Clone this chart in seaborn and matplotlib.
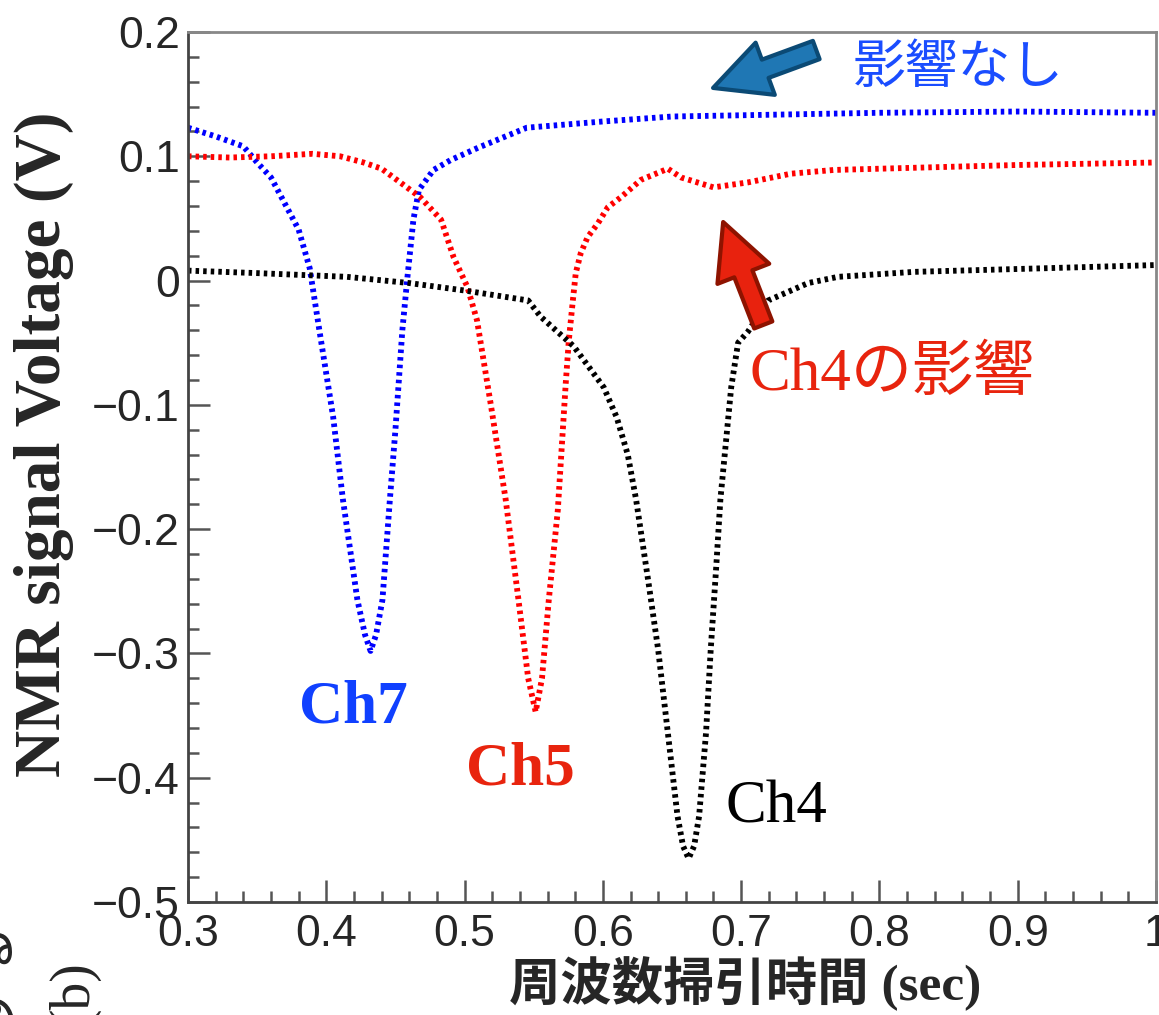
import numpy as np
import pandas as pd
import matplotlib
matplotlib.use("Agg")
import matplotlib.pyplot as plt
import seaborn as sns
from matplotlib.patches import FancyArrowPatch
from matplotlib.ticker import MultipleLocator, FuncFormatter

# -----------------------------
# values (time in sec, voltage in V)
# -----------------------------
ch7_t = [0.300, 0.320, 0.340, 0.350, 0.360, 0.370, 0.380, 0.388, 0.395, 0.400,
         0.405, 0.412, 0.4225, 0.428, 0.432, 0.436, 0.4406, 0.446, 0.450, 0.455,
         0.4587, 0.463, 0.467, 0.4775, 0.490, 0.510, 0.545, 0.600, 0.650, 0.700,
         0.800, 0.900, 1.000]
ch7_v = [0.123, 0.116, 0.108, 0.095, 0.083, 0.062, 0.041, 0.010, -0.040, -0.075,
         -0.110, -0.176, -0.257, -0.285, -0.298, -0.285, -0.257, -0.176, -0.120, -0.040,
         0.003, 0.049, 0.073, 0.089, 0.097, 0.107, 0.123, 0.128, 0.132, 0.133,
         0.135, 0.136, 0.135]

ch5_t = [0.300, 0.330, 0.360, 0.390, 0.410, 0.427, 0.440, 0.451, 0.468, 0.483,
         0.492, 0.502, 0.509, 0.519, 0.5297, 0.539, 0.546, 0.5514, 0.556, 0.5609,
         0.5674, 0.5732, 0.5754, 0.5783, 0.5804, 0.584, 0.589, 0.5964, 0.6036, 0.613,
         0.6275, 0.647, 0.6565, 0.680, 0.705, 0.736, 0.767, 0.800, 0.900, 1.000]
ch5_v = [0.100, 0.099, 0.100, 0.102, 0.100, 0.095, 0.090, 0.081, 0.067, 0.049,
         0.019, -0.005, -0.032, -0.100, -0.176, -0.257, -0.320, -0.347, -0.320, -0.257,
         -0.185, -0.082, -0.048, -0.016, 0.006, 0.022, 0.035, 0.046, 0.059, 0.067,
         0.081, 0.090, 0.083, 0.075, 0.079, 0.086, 0.089, 0.090, 0.093, 0.095]

ch4_t = [0.300, 0.350, 0.415, 0.460, 0.500, 0.546, 0.555, 0.579, 0.6007, 0.610,
         0.618, 0.624, 0.633, 0.640, 0.647, 0.654, 0.658, 0.662, 0.666, 0.6696,
         0.6746, 0.678, 0.682, 0.685, 0.689, 0.6928, 0.6978, 0.705, 0.7196, 0.7485,
         0.770, 0.825, 0.922, 1.000]
ch4_v = [0.008, 0.006, 0.003, -0.002, -0.008, -0.016, -0.029, -0.053, -0.086, -0.110,
         -0.140, -0.176, -0.243, -0.297, -0.364, -0.431, -0.455, -0.465, -0.455, -0.431,
         -0.364, -0.297, -0.230, -0.176, -0.130, -0.086, -0.050, -0.041, -0.016, -0.002,
         0.003, 0.007, 0.010, 0.0125]

series = [(ch7_t, ch7_v, "#0000ff"), (ch5_t, ch5_v, "#ff0000"), (ch4_t, ch4_v, "#000000")]

# -----------------------------
# style
# -----------------------------
sns.set_style("ticks")
plt.rcParams["font.family"] = ["Liberation Sans", "DejaVu Sans"]
serif_jp = ["Liberation Serif", "Noto Sans CJK JP"]

fig = plt.figure(figsize=(11.59, 10.15), dpi=100)
ax = fig.add_axes([188 / 1159, 113 / 1015, 968 / 1159, 870 / 1015])

for t, v, c in series:
    df = pd.DataFrame({"t": t, "v": v})
    sns.lineplot(data=df, x="t", y="v", color=c, sort=False, estimator=None,
                 lw=4.2, dashes=False, ax=ax, linestyle=(0, (0.6, 0.7)))

ax.set_xlim(0.3, 1.0)
ax.set_ylim(-0.5, 0.2)
ax.xaxis.set_major_locator(MultipleLocator(0.1))
ax.xaxis.set_minor_locator(MultipleLocator(0.02))
ax.yaxis.set_major_locator(MultipleLocator(0.1))
ax.yaxis.set_minor_locator(MultipleLocator(0.02))
ax.xaxis.set_major_formatter(FuncFormatter(
    lambda v, p: "1" if abs(v - 1) < 1e-9 else f"{v:.1f}".replace("-", "\u2212")))
ax.yaxis.set_major_formatter(FuncFormatter(
    lambda v, p: "0" if abs(v) < 1e-9 else f"{v:.1f}".replace("-", "\u2212")))

ax.tick_params(which="both", direction="in", top=False, right=False,
               color="#555555", width=1.8, labelsize=32)
ax.tick_params(which="major", length=16)
ax.tick_params(which="minor", length=8)
ax.tick_params(axis="x", pad=9)
ax.tick_params(axis="y", pad=6)
for s in ax.spines.values():
    s.set_color("#444444")
    s.set_linewidth(2)
ax.spines["top"].set_color("#888888")
ax.spines["right"].set_color("#888888")

ax.set_xlabel("")
ax.set_ylabel("")
fig.text(745 / 1159, 4 / 1015, "周波数掃引時間 (sec)", family=serif_jp,
         weight="bold", fontsize=37, ha="center", va="bottom")
fig.text(44 / 1159, 0.562, "NMR signal Voltage (V)", family=serif_jp,
         weight="bold", fontsize=47, rotation=90, ha="center", va="center")

# -----------------------------
# labels and arrows
# -----------------------------
ax.text(0.8572, 0.170, "影響なし", family=serif_jp, fontsize=38,
        color="#1a4dff", ha="center", va="center")
ax.text(0.7058, -0.0759, "Ch4の影響", family=serif_jp, fontsize=44,
        color="#e8240e", ha="left", va="center")
ax.text(0.4196, -0.3438, "Ch7", family=serif_jp, fontsize=44, weight="bold",
        color="#1040ff", ha="center", va="center")
ax.text(0.5406, -0.3937, "Ch5", family=serif_jp, fontsize=44, weight="bold",
        color="#e8240e", ha="center", va="center")
ax.text(0.7254, -0.4243, "Ch4", family=serif_jp, fontsize=44,
        color="#000000", ha="center", va="center")

arrow_style = "simple,head_length=40,head_width=40,tail_width=14"
ax.add_patch(FancyArrowPatch((0.7543, 0.1855), (0.6797, 0.155), arrowstyle=arrow_style,
                             mutation_scale=1, fc="#1f77b4", ec="#0b4a75", lw=3,
                             shrinkA=0, shrinkB=0, zorder=5))
ax.add_patch(FancyArrowPatch((0.716, -0.0357), (0.687, 0.0471), arrowstyle=arrow_style,
                             mutation_scale=1, fc="#e8220e", ec="#8e1300", lw=3,
                             shrinkA=0, shrinkB=0, zorder=5))

# clipped caption pieces at the bottom left (cut off in the reference too)
fig.text(73 / 1159, 1 - 960 / 1015, "(b)", family=serif_jp, fontsize=40,
         rotation=90, ha="center", va="top")
fig.text(-8 / 1159, 1 - 918 / 1015, "する", family=serif_jp, fontsize=40,
         rotation=90, ha="center", va="top")

fig.savefig("out.png", dpi=100)
